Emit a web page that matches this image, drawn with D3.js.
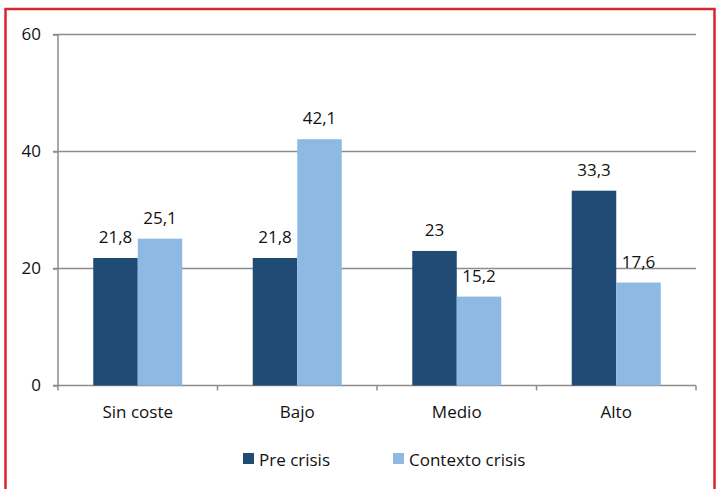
<!DOCTYPE html>
<html>
<head>
<meta charset="utf-8">
<script src="https://cdn.jsdelivr.net/npm/d3@7"></script>
<style>
  body { margin: 0; background: #fff; }
  svg text { font-family: "Open Sans", "Noto Sans", sans-serif; fill: #111; }
</style>
</head>
<body>
<svg id="svg" width="716" height="489"></svg>
<script>
const categories = ["Sin coste", "Bajo", "Medio", "Alto"];
const seriesNames = ["Pre crisis", "Contexto crisis"];
const preCrisis = [21.8, 21.8, 23, 33.3];
const contextoCrisis = [25.1, 42.1, 15.2, 17.6];
const yTicks = [0, 20, 40, 60];

const colors = ["#1f4b74", "#8eb9e3"];
const plotLeft = 58, plotRight = 696, plotTop = 34.5, plotBottom = 385.5;
const fontSize = "17px";

const svg = d3.select("#svg");

// marco rojo
svg.append("rect")
  .attr("x", 5.5).attr("y", 9)
  .attr("width", 709).attr("height", 490)
  .attr("fill", "none")
  .attr("stroke", "#d7262e")
  .attr("stroke-width", 2.5);

const x = d3.scaleBand().domain(categories).range([plotLeft, plotRight]);
const xInner = d3.scaleBand().domain(seriesNames).range([0, 89]);
const y = d3.scaleLinear().domain([0, 60]).range([plotBottom, plotTop]);

// lineas de cuadricula
svg.append("g")
  .selectAll("line")
  .data(yTicks.filter(d => d > 0))
  .enter()
  .append("line")
  .attr("x1", plotLeft - 5).attr("x2", plotRight)
  .attr("y1", d => y(d)).attr("y2", d => y(d))
  .attr("stroke", "#8c8c8c")
  .attr("stroke-width", 1.5);

const yAxis = d3.axisLeft(y).tickValues(yTicks).tickSize(5).tickPadding(12);
const gy = svg.append("g")
  .attr("transform", `translate(${plotLeft}, 0)`)
  .call(yAxis);
gy.select(".domain").attr("stroke", "#8c8c8c").attr("stroke-width", 1.5).attr("d", `M0,${plotTop}V${plotBottom}`);
gy.selectAll(".tick line").attr("stroke", "#8c8c8c").attr("stroke-width", 1.5);
gy.selectAll(".tick text").style("font-size", fontSize).attr("fill", "#111");

// eje x
svg.append("line")
  .attr("x1", plotLeft - 5).attr("x2", plotRight)
  .attr("y1", plotBottom).attr("y2", plotBottom)
  .attr("stroke", "#8c8c8c").attr("stroke-width", 1.5);

svg.append("g")
  .selectAll("line")
  .data(categories.concat(["end"]))
  .enter()
  .append("line")
  .attr("x1", (d, i) => i < categories.length ? x(d) : plotRight)
  .attr("x2", (d, i) => i < categories.length ? x(d) : plotRight)
  .attr("y1", plotBottom).attr("y2", plotBottom + 5)
  .attr("stroke", "#8c8c8c").attr("stroke-width", 1.5);

svg.append("g")
  .selectAll("text")
  .data(categories)
  .enter()
  .append("text")
  .attr("x", d => x(d) + x.bandwidth() / 2)
  .attr("y", 418)
  .attr("text-anchor", "middle")
  .style("font-size", fontSize)
  .text(d => d);

// barras
const series = [preCrisis, contextoCrisis];
const groupOffset = (x.bandwidth() - 89) / 2;

series.forEach((values, s) => {
  const g = svg.append("g");
  g.selectAll("rect")
    .data(values)
    .enter()
    .append("rect")
    .attr("x", (d, i) => x(categories[i]) + groupOffset + xInner(seriesNames[s]))
    .attr("y", d => y(d))
    .attr("width", xInner.bandwidth())
    .attr("height", d => plotBottom - y(d))
    .attr("fill", colors[s]);

  g.selectAll("text")
    .data(values)
    .enter()
    .append("text")
    .attr("x", (d, i) => x(categories[i]) + groupOffset + xInner(seriesNames[s]) + xInner.bandwidth() / 2)
    .attr("y", d => y(d) - 15)
    .attr("text-anchor", "middle")
    .style("font-size", fontSize)
    .text(d => String(d).replace(".", ","));
});

// leyenda
const legendX = [243, 393];
const legend = svg.append("g");
seriesNames.forEach((name, i) => {
  legend.append("rect")
    .attr("x", legendX[i]).attr("y", 453)
    .attr("width", 11).attr("height", 11)
    .attr("fill", colors[i]);
  legend.append("text")
    .attr("x", legendX[i] + 16).attr("y", 466)
    .style("font-size", fontSize)
    .text(name);
});
</script>
</body>
</html>
